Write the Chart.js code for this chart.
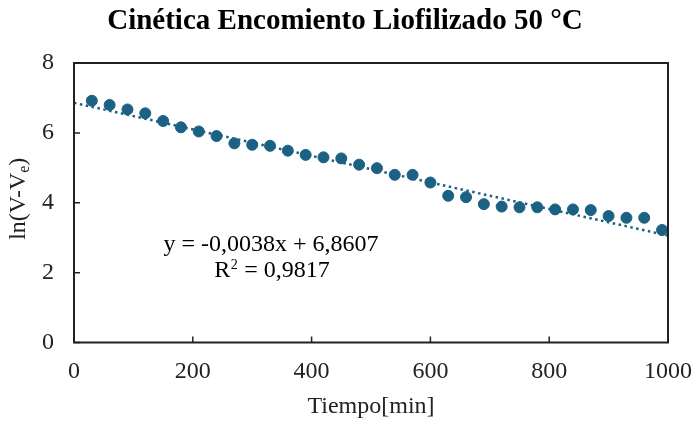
<!DOCTYPE html>
<html>
<head>
<meta charset="utf-8">
<script src="https://cdn.jsdelivr.net/npm/chart.js@4/dist/chart.umd.min.js"></script>
<style>
  html, body { margin: 0; padding: 0; background: #ffffff; }
  #wrap { width: 695px; height: 421px; position: relative; }
</style>
</head>
<body>
<div id="wrap"><canvas id="c" width="695" height="421"></canvas></div>
<script>
// Drying kinetics: time (min) vs ln(V - Ve)
const tiempo = [30, 60, 90, 120, 150, 180, 210, 240, 270, 300, 330, 360, 390, 420, 450, 480,
                510, 540, 570, 600, 630, 660, 690, 720, 750, 780, 810, 840, 870, 900, 930, 960, 990];
const lnV = [6.92, 6.80, 6.67, 6.56, 6.34, 6.16, 6.04, 5.91, 5.70, 5.66, 5.63, 5.49, 5.37, 5.30, 5.27, 5.09,
             4.99, 4.80, 4.80, 4.58, 4.20, 4.16, 3.96, 3.89, 3.87, 3.87, 3.81, 3.81, 3.79, 3.62, 3.57, 3.57, 3.22];

// Linear fit reported on the chart
const pendiente = -0.0038;
const intercepto = 6.8607;
const r2 = 0.9817;
const rangoAjuste = [0, 1000];

const xTicks = [0, 200, 400, 600, 800, 1000];
const yTicks = [0, 2, 4, 6, 8];

const titulo = 'Cinética Encomiento Liofilizado 50 °C';
const ejeX = 'Tiempo[min]';
const colorSerie = '#1b6184';
const serif = '"Liberation Serif", "Times New Roman", serif';

const puntos = tiempo.map((t, i) => ({ x: t, y: lnV[i] }));
const ajuste = rangoAjuste.map(t => ({ x: t, y: pendiente * t + intercepto }));

const fmt = v => v.toFixed(4).replace('.', ',');

const decor = {
  id: 'decor',
  afterDraw(chart) {
    const { ctx, chartArea: a, scales } = chart;
    ctx.save();
    // Plot frame
    ctx.strokeStyle = '#222';
    ctx.lineWidth = 2;
    ctx.strokeRect(a.left, a.top, a.right - a.left, a.bottom - a.top);
    // Inner tick marks
    ctx.lineWidth = 1.5;
    ctx.beginPath();
    xTicks.forEach(v => {
      const px = scales.x.getPixelForValue(v);
      ctx.moveTo(px, a.bottom); ctx.lineTo(px, a.bottom - 6);
    });
    yTicks.forEach(v => {
      const py = scales.y.getPixelForValue(v);
      ctx.moveTo(a.left, py); ctx.lineTo(a.left + 6, py);
    });
    ctx.stroke();

    // Title
    ctx.fillStyle = '#000';
    ctx.textAlign = 'center';
    ctx.textBaseline = 'middle';
    ctx.font = 'bold 29px ' + serif;
    ctx.fillText(titulo, 345, 22);

    // X axis title
    ctx.font = '24px ' + serif;
    ctx.fillStyle = '#222';
    ctx.fillText(ejeX, (a.left + a.right) / 2, 407);

    // Y axis title with subscript
    ctx.save();
    ctx.translate(19, (a.top + a.bottom) / 2 - 4);
    ctx.rotate(-Math.PI / 2);
    ctx.textAlign = 'left';
    ctx.textBaseline = 'middle';
    const p1 = 'ln(V-V', sub = 'e', p2 = ')';
    ctx.font = '24px ' + serif;
    const w1 = ctx.measureText(p1).width, w3 = ctx.measureText(p2).width;
    ctx.font = '16px ' + serif;
    const w2 = ctx.measureText(sub).width;
    let x0 = -(w1 + w2 + w3) / 2;
    ctx.font = '24px ' + serif;
    ctx.fillText(p1, x0, 0);
    ctx.font = '16px ' + serif;
    ctx.fillText(sub, x0 + w1, 6);
    ctx.font = '24px ' + serif;
    ctx.fillText(p2, x0 + w1 + w2, 0);
    ctx.restore();

    // Regression equation
    ctx.textAlign = 'center';
    ctx.font = '24px ' + serif;
    ctx.fillStyle = '#000';
    const signo = pendiente < 0 ? '-' : '';
    ctx.fillText('y = ' + signo + fmt(Math.abs(pendiente)) + 'x + ' + fmt(intercepto), 271, 245);

    // R squared with a small raised exponent
    const rA = 'R', rB = '2', rC = ' = ' + fmt(r2);
    ctx.textAlign = 'left';
    const wa = ctx.measureText(rA).width, wc = ctx.measureText(rC).width;
    ctx.font = '14px ' + serif;
    const wb = ctx.measureText(rB).width + 1;
    const rx = 272 - (wa + wb + wc) / 2;
    ctx.font = '24px ' + serif;
    ctx.fillText(rA, rx, 271);
    ctx.font = '14px ' + serif;
    ctx.fillText(rB, rx + wa + 0.5, 265);
    ctx.font = '24px ' + serif;
    ctx.fillText(rC, rx + wa + wb, 271);
    ctx.restore();
  }
};

new Chart(document.getElementById('c'), {
  type: 'scatter',
  data: {
    datasets: [
      {
        data: puntos,
        backgroundColor: colorSerie,
        borderColor: colorSerie,
        pointRadius: 5.5,
        pointHoverRadius: 5.5,
        order: 1
      },
      {
        type: 'line',
        data: ajuste,
        borderColor: colorSerie,
        borderWidth: 2.5,
        borderDash: [2.5, 3.5],
        borderCapStyle: 'butt',
        pointRadius: 0,
        fill: false,
        order: 2
      }
    ]
  },
  plugins: [decor],
  options: {
    responsive: false,
    animation: false,
    layout: { padding: { top: 63, right: 27, bottom: 0, left: 0 } },
    plugins: { legend: { display: false }, tooltip: { enabled: false } },
    scales: {
      x: {
        type: 'linear',
        min: 0, max: 1000,
        afterBuildTicks: s => { s.ticks = xTicks.map(v => ({ value: v })); },
        afterFit: s => { s.height = 78.5; s.paddingRight = 0; s.paddingLeft = 0; },
        grid: { display: false, drawTicks: false },
        border: { display: false },
        ticks: { padding: 15, color: '#222', font: { family: serif, size: 24 }, callback: v => String(v) }
      },
      y: {
        type: 'linear',
        min: 0, max: 8,
        afterBuildTicks: s => { s.ticks = yTicks.map(v => ({ value: v })); },
        afterFit: s => { s.width = 74; s.paddingTop = 0; s.paddingBottom = 0; },
        grid: { display: false, drawTicks: false },
        border: { display: false },
        ticks: { padding: 20, color: '#222', font: { family: serif, size: 24 }, callback: v => String(v) }
      }
    }
  }
});
</script>
</body>
</html>
